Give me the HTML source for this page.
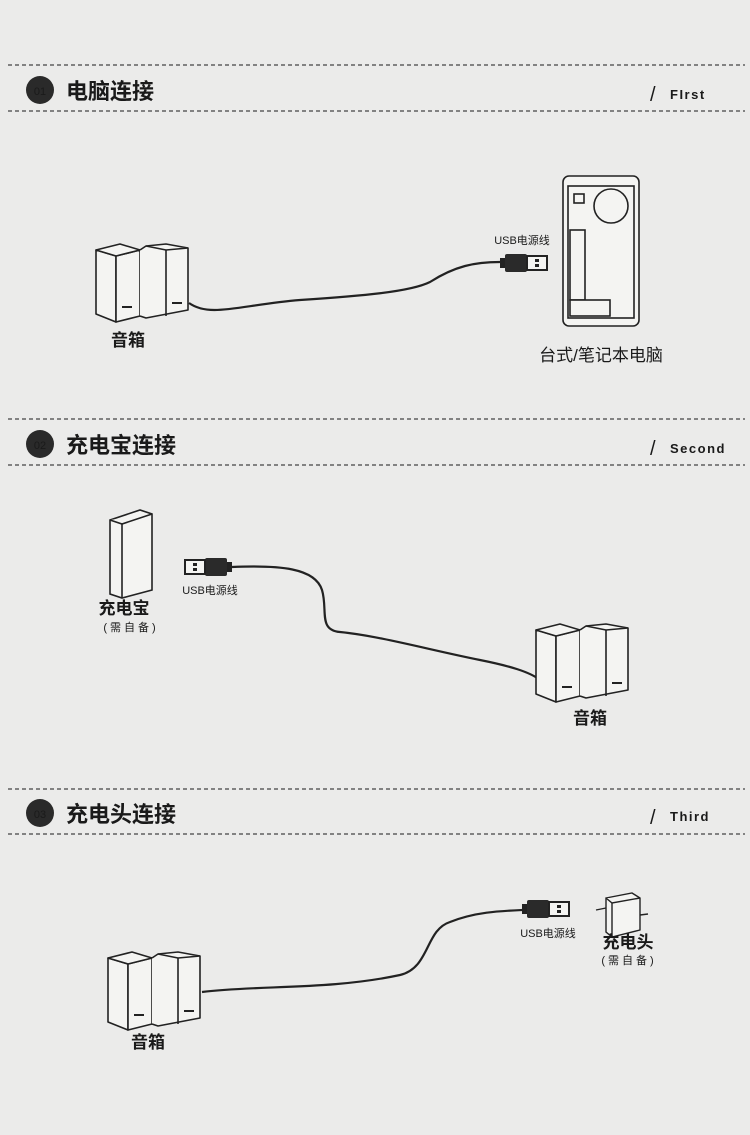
<!DOCTYPE html>
<html><head><meta charset="utf-8"><style>
body{margin:0;width:750px;height:1135px;background:#ebebea;overflow:hidden;font-family:"Liberation Sans","Noto Sans CJK SC",sans-serif;}
svg{display:block}
text{font-family:"Liberation Sans","Noto Sans CJK SC",sans-serif;fill:#1a1a1a}
</style></head><body>
<svg width="750" height="1135" viewBox="0 0 750 1135" xmlns="http://www.w3.org/2000/svg">
<defs>
<g id="spk" fill="#f4f4f2" stroke="#222" stroke-width="1.6" stroke-linejoin="round">
 <path d="M0,8 L20,14 L20,80 L0,72 Z"/><path d="M20,14 L44,8 L44,74 L20,80 Z"/>
 <path d="M0,8 L24,2 L44,8 L20,14 Z"/>
 <path d="M44,8 L50,4 L70,2 L92,6 L92,68 L50,76 L44,74"/>
 <path d="M50,4 L70,8 L92,6"/><path d="M70,8 L70,74"/>
 <rect x="26" y="64" width="10" height="2" fill="#222" stroke="none"/>
 <rect x="76" y="60" width="10" height="2" fill="#222" stroke="none"/>
</g>
<g id="usb">
 <rect x="0" y="6" width="6" height="10" fill="#222"/>
 <rect x="5" y="2" width="22" height="18" rx="2" fill="#2a2a2a"/>
 <rect x="27" y="4" width="20" height="14" fill="#f4f4f2" stroke="#222" stroke-width="2"/>
 <rect x="35" y="7" width="4" height="3" fill="#222"/><rect x="35" y="12" width="4" height="3" fill="#222"/>
</g>
<g id="dash"><line x1="8" x2="745" y1="0" y2="0" stroke="#444" stroke-width="1.3" stroke-dasharray="4,3"/></g>
</defs>

<!-- section 1 -->
<use href="#dash" y="65"/><use href="#dash" y="111"/>
<circle cx="40" cy="90" r="14" fill="#2a2a2a"/><text x="40" y="95" font-size="11" text-anchor="middle" fill="#555">01</text>
<text x="66" y="99" font-size="22" font-weight="bold">电脑连接</text>
<text x="650" y="101" font-size="20" fill="#333">/</text>
<text x="670" y="99" font-size="13" font-weight="bold" letter-spacing="1.5">FIrst</text>

<use href="#spk" x="96" y="242"/>
<path d="M189,303 C210,318 240,305 300,300 C360,296 410,292 430,282 C455,266 475,262 500,262" fill="none" stroke="#222" stroke-width="2.2"/>
<use href="#usb" x="500" y="252"/>
<text x="522" y="244" font-size="11" text-anchor="middle">USB电源线</text>
<g fill="#f4f4f2" stroke="#222" stroke-width="1.6">
 <rect x="563" y="176" width="76" height="150" rx="6"/>
 <rect x="568" y="186" width="66" height="132"/>
 <circle cx="611" cy="206" r="17"/>
 <rect x="574" y="194" width="10" height="9"/>
 <rect x="570" y="230" width="15" height="70"/>
 <rect x="570" y="300" width="40" height="16"/>
</g>
<text x="128" y="346" font-size="17" font-weight="bold" text-anchor="middle">音箱</text>
<text x="601" y="361" font-size="17" text-anchor="middle">台式/笔记本电脑</text>

<!-- section 2 -->
<use href="#dash" y="419"/><use href="#dash" y="465"/>
<circle cx="40" cy="444" r="14" fill="#2a2a2a"/><text x="40" y="449" font-size="11" text-anchor="middle" fill="#555">02</text>
<text x="66" y="453" font-size="22" font-weight="bold">充电宝连接</text>
<text x="650" y="455" font-size="20" fill="#333">/</text>
<text x="670" y="453" font-size="13" font-weight="bold" letter-spacing="1.5">Second</text>

<g fill="#f4f4f2" stroke="#222" stroke-width="1.6">
 <path d="M110,520 L140,510 L152,514 L152,590 L122,598 L110,594 Z"/>
 <path d="M110,520 L122,524 L152,514"/><path d="M122,524 L122,598"/>
</g>
<g transform="translate(232,578) scale(-1,-1)"><use href="#usb" x="0" y="0"/></g>
<path d="M232,567 C280,565 315,568 322,590 C328,610 318,630 340,632 C380,636 430,650 480,660 C510,666 530,672 540,680" fill="none" stroke="#222" stroke-width="2.2"/>
<text x="210" y="594" font-size="11" text-anchor="middle">USB电源线</text>
<text x="124" y="614" font-size="17" font-weight="bold" text-anchor="middle">充电宝</text>
<text x="131" y="631" font-size="11" text-anchor="middle" letter-spacing="3">(需自备)</text>
<use href="#spk" x="536" y="622"/>
<text x="590" y="724" font-size="17" font-weight="bold" text-anchor="middle">音箱</text>

<!-- section 3 -->
<use href="#dash" y="789"/><use href="#dash" y="834"/>
<circle cx="40" cy="813" r="14" fill="#2a2a2a"/><text x="40" y="818" font-size="11" text-anchor="middle" fill="#555">03</text>
<text x="66" y="822" font-size="22" font-weight="bold">充电头连接</text>
<text x="650" y="824" font-size="20" fill="#333">/</text>
<text x="670" y="821" font-size="13" font-weight="bold" letter-spacing="1.5">Third</text>

<use href="#spk" x="108" y="950"/>
<path d="M202,992 C260,985 330,990 400,975 C430,968 425,930 450,922 C475,912 500,911 522,910" fill="none" stroke="#222" stroke-width="2.2"/>
<use href="#usb" x="522" y="898"/>
<text x="548" y="937" font-size="11" text-anchor="middle">USB电源线</text>
<g fill="#f4f4f2" stroke="#222" stroke-width="1.4">
 <path d="M606,898 L632,893 L640,898 L640,930 L612,937 L606,932 Z"/>
 <path d="M606,898 L612,903 L640,898"/><path d="M612,903 L612,937"/>
 <line x1="596" y1="910" x2="606" y2="908"/><line x1="640" y1="915" x2="648" y2="914"/>
</g>
<text x="628" y="948" font-size="17" font-weight="bold" text-anchor="middle">充电头</text>
<text x="629" y="964" font-size="11" text-anchor="middle" letter-spacing="3">(需自备)</text>
<text x="148" y="1048" font-size="17" font-weight="bold" text-anchor="middle">音箱</text>
</svg>
</body></html>
